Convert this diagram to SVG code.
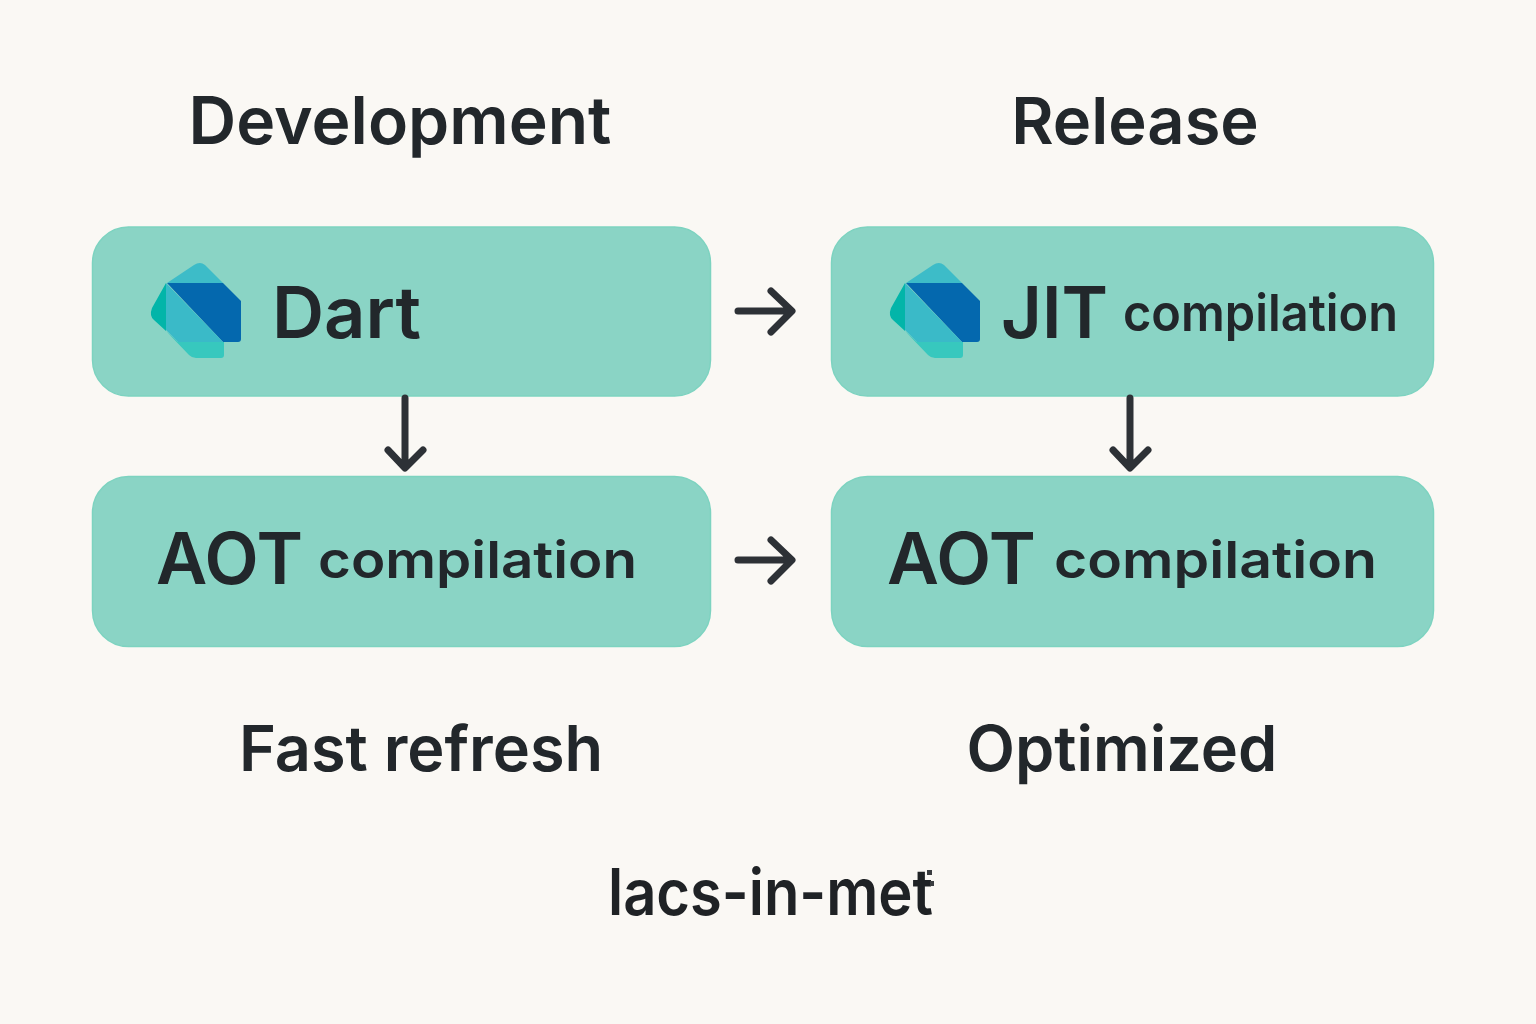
<svg xmlns="http://www.w3.org/2000/svg" width="1536" height="1024" viewBox="0 0 1536 1024">
<defs>
<g id="logo">
<path d="M167 283 L194 265 Q200 261 205 265 L223 283 Z" fill="#3dbcc8"/>
<path d="M167 283 L223 283 L241 301 L241 339 Q241 342 238 342 L223 342 Z" fill="#0468ae"/>
<path d="M178 342 L224 342 L224 355 Q224 358 221 358 L196 358 Q192 358 189 355 L166 331 Z" fill="#37c8be"/>
<path d="M166 283 L223 342 L178 342 L166 330 Z" fill="#3abac8"/>
<path d="M166 283 L152 308 Q149 316 154 320 L166 331 Z" fill="#02b5a9"/>
</g>
</defs>
<style>
text{font-family:"Inter","Noto Sans",sans-serif;fill:#22272b}
.h{font-weight:600;text-anchor:middle}
.big{font-size:71px;font-weight:600}
.sm{font-size:51px;font-weight:600}
.box{fill:#8ad4c5;stroke:#7dd3c0;stroke-width:1.5}
.c{fill:none;stroke:#2d3136;stroke-width:7;stroke-linecap:round;stroke-linejoin:round}
</style>
<rect width="1536" height="1024" fill="#faf8f4"/>
<g id="title-dev"><text class="h" x="400" y="144" font-size="66">Development</text></g>
<g id="title-rel"><text class="h" x="1135" y="144" font-size="65">Release</text></g>
<g id="node-dart"><rect class="box" x="92.500" y="227" width="618" height="169" rx="36"/><use href="#logo"/><text class="big" x="272" y="338" textLength="149" lengthAdjust="spacingAndGlyphs">Dart</text></g>
<g id="node-jit"><rect class="box" x="831.500" y="227" width="602" height="169" rx="36"/><use href="#logo" x="739"/><text class="big" x="1001" y="338" textLength="107" lengthAdjust="spacingAndGlyphs">JIT</text><text class="sm" x="1123" y="331" textLength="275" lengthAdjust="spacingAndGlyphs">compilation</text></g>
<g id="node-aot-dev"><rect class="box" x="92.500" y="476.500" width="618" height="170" rx="36"/><text class="big" x="156" y="584" textLength="147" lengthAdjust="spacingAndGlyphs">AOT</text><text class="sm" x="318" y="578" textLength="319" lengthAdjust="spacingAndGlyphs">compilation</text></g>
<g id="node-aot-rel"><rect class="box" x="831.500" y="476.500" width="602" height="170" rx="36"/><text class="big" x="887" y="584" textLength="149" lengthAdjust="spacingAndGlyphs">AOT</text><text class="sm" x="1054" y="578" textLength="323" lengthAdjust="spacingAndGlyphs">compilation</text></g>
<g id="connectors">
<path class="c" d="M738 311 H790 M771 291 L792 311 L771 332"/>
<path class="c" d="M738 560 H790 M771 540 L792 560 L771 581"/>
<path class="c" d="M405 398 V466 M388 450 L405 468 L423 450"/>
<path class="c" d="M1130 398 V466 M1113 450 L1130 468 L1148 450"/>
</g>
<g id="label-fast"><text class="h" x="421" y="771" font-size="63">Fast refresh</text></g>
<g id="label-opt"><text class="h" x="1122" y="771" font-size="63">Optimized</text></g>
<g id="label-footer"><text x="608" y="915" font-size="64" font-weight="600" textLength="325" lengthAdjust="spacingAndGlyphs" style="fill:#1f2225">lacs-in-met</text>
<rect x="927" y="870" width="5" height="5" fill="#3a3d40"/><rect x="930" y="881" width="4" height="5" fill="#3a3d40"/></g>
</svg>
